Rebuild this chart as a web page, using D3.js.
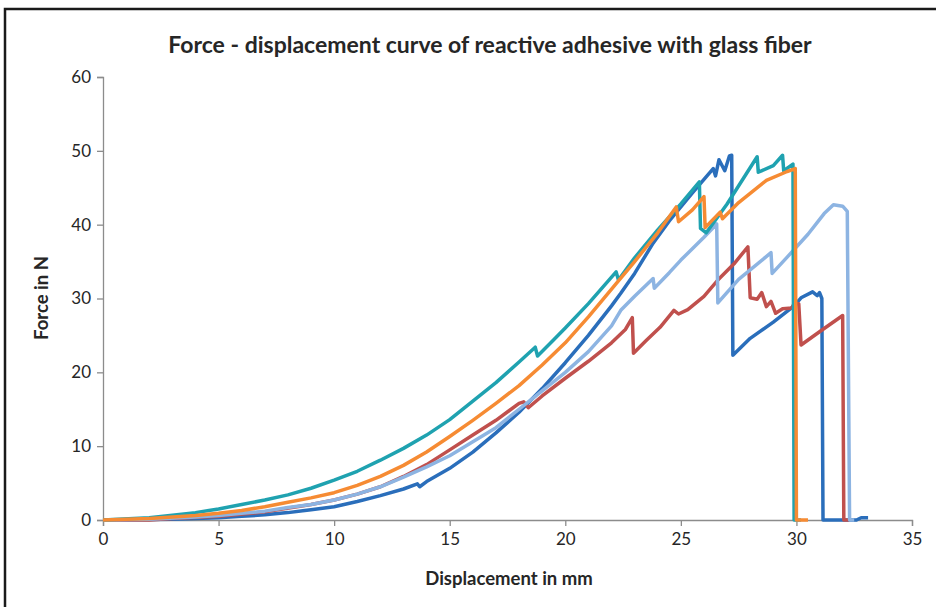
<!DOCTYPE html>
<html lang="en">
  <head>
    <meta charset="utf-8">
    <title>Force - displacement curve</title>
    <style>
      body { margin: 0; background: #fff; }
      svg text { font-family: Lato, "Open Sans", sans-serif; fill: #262626; }
    </style>
  </head>
  <body>
    <div id="chart"></div>
  <script src="https://cdn.jsdelivr.net/npm/d3@7"></script>
  <script type="text/javascript">
    // [displacement mm, force N]
    var darkBlue = [[0,0],[3,0.1],[5,0.3],[6,0.5],[7,0.7],[8,1],[9,1.4],[10,1.8],[11,2.5],[12,3.3],[13,4.2],
      [13.6,4.9],[13.7,4.5],[14,5.2],[15,7],[16,9.2],[17,11.8],[18,14.6],[19,17.8],[20,21.3],[21,25],[22,29],
      [22.4,30.7],[23,33.4],[23.8,37.5],[24.5,40.5],[25.5,44.3],[26.4,47.6],[26.5,46.6],[26.65,48.8],[26.9,47.3],
      [27.1,49.3],[27.2,49.4],[27.25,22.3],[28,24.6],[29,26.8],[29.9,29],[30.2,30.1],[30.7,30.9],[30.9,30.4],
      [31.0,30.8],[31.1,30.0],[31.15,0],[32.6,0],[32.8,0.3],[33.1,0.3]];
    var red = [[0,0],[2,0],[3,0.2],[5,0.5],[7,1.1],[9,2.1],[10,2.7],[11,3.5],[12,4.5],[13,5.9],[14,7.5],[15,9.5],
      [16,11.5],[17,13.5],[18,15.8],[18.2,16],[18.4,15.2],[19,16.8],[20,19.2],[21,21.5],[22,24],[22.6,25.8],
      [22.9,27.4],[22.95,22.6],[23.5,24.3],[24.1,26.1],[24.7,28.4],[24.9,27.9],[25.3,28.5],[26,30.3],[26.6,32.5],
      [27.3,34.7],[27.9,37],[28.0,30.1],[28.3,29.9],[28.5,30.8],[28.7,28.9],[28.9,29.6],[29.1,28],[29.4,28.6],
      [29.8,28.7],[29.9,29.3],[30.1,29.3],[30.2,23.7],[31,25.5],[32.0,27.7],[32.05,0],[32.3,0]];
    var lightBlue = [[0,0],[2,0.1],[4,0.4],[5,0.6],[6,0.9],[7,1.2],[8,1.7],[9,2.1],[10,2.7],[11,3.5],[12,4.5],
      [13,5.8],[14,7.2],[15,8.7],[16,10.6],[17,12.5],[18,15],[19,17.5],[20,20],[21,22.8],[22,26.3],[22.4,28.4],
      [23,30.3],[23.8,32.7],[23.85,31.4],[24.5,33.5],[25,35.2],[26,38.3],[26.55,40.1],[26.6,29.4],[27.5,32.6],
      [28.9,36.2],[28.95,33.4],[29.6,35.6],[30.5,38.7],[31.2,41.5],[31.6,42.7],[32.0,42.5],[32.2,41.8],[32.3,0],[32.5,0]];
    var teal = [[0,0],[2,0.3],[4,1.0],[5,1.5],[6,2.1],[7,2.7],[8,3.4],[9,4.3],[10,5.4],[11,6.6],[12,8.1],[13,9.7],
      [14,11.5],[15,13.6],[16,16.1],[17,18.6],[18,21.4],[18.7,23.4],[18.8,22.2],[19.5,24.4],[20,26],[21,29.3],
      [22.2,33.6],[22.3,32.5],[23,35.5],[24,39.3],[25,42.8],[25.8,45.8],[25.85,39.5],[26.1,38.9],[27,42.8],
      [28.3,49.2],[28.35,47.1],[29,48],[29.4,49.4],[29.45,47.3],[29.85,48.2],[29.9,0],[30.2,0]];
    var orange = [[0,0],[2,0.2],[4,0.6],[5,0.9],[6,1.3],[7,1.8],[8,2.4],[9,3.0],[10,3.7],[11,4.7],[12,5.9],
      [13,7.4],[14,9.2],[15,11.3],[16,13.5],[17,15.8],[18,18.2],[19,21],[20,24],[21,27.5],[22.2,32],[23,35],
      [24,38.9],[24.8,42.4],[24.9,40.4],[25.5,42],[26,43.8],[26.05,39.6],[26.7,41.7],[26.8,40.8],[27.5,43],
      [28.7,46],[29.6,47.2],[29.95,47.6],[30,0],[30.5,0]];

    var xTicks = [0, 5, 10, 15, 20, 25, 30, 35];
    var yTicks = [0, 10, 20, 30, 40, 50, 60];

    var series = [
      {data: darkBlue, color: "#2a6ebb"},
      {data: red, color: "#c0504d"},
      {data: lightBlue, color: "#8db4e2"},
      {data: teal, color: "#1fa2b0"},
      {data: orange, color: "#f68b33"}
    ];

    var width = 936, height = 607;
    var svg = d3.select("#chart").append("svg")
      .attr("width", width)
      .attr("height", height);

    // frame
    svg.append("path")
      .attr("d", "M5,607 L5,9 L936,9")
      .attr("fill", "none")
      .attr("stroke", "#1a1a1a")
      .attr("stroke-width", 2.5);

    var x = d3.scaleLinear().domain([0, 35]).range([103, 912]);
    var y = d3.scaleLinear().domain([0, 60]).range([520, 77]);

    var gx = svg.append("g")
      .attr("transform", "translate(0,520)")
      .call(d3.axisBottom(x).tickValues(xTicks).tickSize(6).tickPadding(7));
    var gy = svg.append("g")
      .attr("transform", "translate(103,0)")
      .call(d3.axisLeft(y).tickValues(yTicks).tickSize(6).tickPadding(6));

    [gx, gy].forEach(function(g) {
      g.selectAll("path, line").attr("stroke", "#8c8c8c").attr("stroke-width", 1.3);
      g.selectAll("text")
        .attr("font-family", "Lato, sans-serif")
        .attr("font-size", 17)
        .attr("fill", "#333");
    });

    //lines
    var line = d3.line()
      .x(function(d) { return x(d[0]); })
      .y(function(d) { return y(d[1]); });

    svg.append("g").selectAll("path")
      .data(series)
      .enter()
      .append("path")
      .attr("d", function(s) { return line(s.data); })
      .attr("fill", "none")
      .attr("stroke", function(s) { return s.color; })
      .attr("stroke-width", 3.5)
      .attr("stroke-linejoin", "round");

    svg.append("text")
      .attr("x", 490)
      .attr("y", 53)
      .attr("text-anchor", "middle")
      .attr("font-size", 23)
      .attr("font-weight", "bold")
      .text("Force - displacement curve of reactive adhesive with glass fiber");

    svg.append("text")
      .attr("x", 509)
      .attr("y", 585)
      .attr("text-anchor", "middle")
      .attr("font-size", 18.5)
      .attr("font-weight", "bold")
      .text("Displacement in mm");

    svg.append("text")
      .attr("transform", "translate(48,298) rotate(-90)")
      .attr("text-anchor", "middle")
      .attr("font-size", 18.5)
      .attr("font-weight", "bold")
      .text("Force in N");
  </script>
  </body>
</html>
